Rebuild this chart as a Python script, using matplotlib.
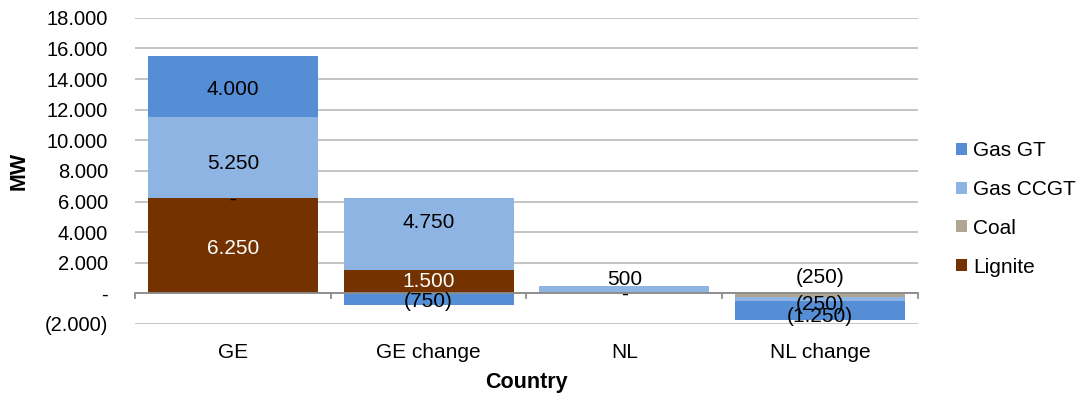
import numpy as np
import matplotlib.pyplot as plt
from matplotlib.ticker import FuncFormatter, FixedLocator

plt.rcParams['font.family'] = ['Liberation Sans', 'DejaVu Sans']

# data (MW)
countries = ['GE', 'GE change', 'NL', 'NL change']
lignite = [6250, 1500, 0, 0]
coal = [0, 0, 0, -250]
gas_ccgt = [5250, 4750, 500, -250]
gas_gt = [4000, -750, 0, -1250]

series = [('Lignite', lignite, '#733200'),
          ('Coal', coal, '#AEA690'),
          ('Gas CCGT', gas_ccgt, '#8EB4E3'),
          ('Gas GT', gas_gt, '#558ED5')]

# which labels are shown (Excel-like), with small nudges in points
label_show = {
    'Lignite': [True, True, False, False],
    'Coal': [True, False, True, True],
    'Gas CCGT': [True, True, True, True],
    'Gas GT': [True, True, False, True],
}
label_nudge = {('Gas CCGT', 1): 8, ('Gas CCGT', 2): 7, ('Coal', 3): 13,
               ('Coal', 2): -1, ('Gas CCGT', 3): -4, ('Gas GT', 3): -4,
               ('Gas GT', 1): -2, ('Gas CCGT', 0): -4, ('Gas GT', 0): -2,
               ('Lignite', 0): -2, ('Coal', 0): -1}


def fmt(v, pos=None):
    if abs(v) < 1e-9:
        return '-'
    s = f'{abs(v):,.0f}'.replace(',', '.')
    return f'({s})' if v < 0 else s


fig = plt.figure(figsize=(10.85, 3.97), dpi=100)
ax = fig.add_axes([0.1245, 0.184, 0.7215, 0.771])

x = np.arange(len(countries))
pos_base = np.zeros(len(countries))
neg_base = np.zeros(len(countries))
handles = {}
for name, vals, color in series:
    vals = np.array(vals, dtype=float)
    bottoms = np.where(vals >= 0, pos_base, neg_base)
    b = ax.bar(x, vals, width=0.87, bottom=bottoms, color=color, zorder=3)
    handles[name] = b
    for i, v in enumerate(vals):
        if not label_show[name][i]:
            continue
        cy = bottoms[i] + v / 2
        tc = 'white' if name == 'Lignite' else 'black'
        ax.annotate(fmt(v), (x[i], cy), xytext=(0, label_nudge.get((name, i), 0)),
                    textcoords='offset points', ha='center', va='center',
                    fontsize=15, color=tc, zorder=5)
    pos_base = pos_base + np.where(vals > 0, vals, 0)
    neg_base = neg_base + np.where(vals < 0, vals, 0)

ax.set_ylim(-2000, 18000)
ax.set_xlim(-0.5, len(countries) - 0.5)
ax.yaxis.set_major_locator(FixedLocator(np.arange(-2000, 18001, 2000)))
ax.yaxis.set_major_formatter(FuncFormatter(fmt))
ax.grid(axis='y', color='#BFBFBF', linewidth=1.3, zorder=0)
ax.axhline(0, color='#8C8C8C', linewidth=1.3, zorder=4)

for s in ax.spines.values():
    s.set_visible(False)
ax.set_xticks(x)
ax.set_xticklabels(countries, fontsize=15)
ax.tick_params(axis='x', which='major', length=0, pad=14)
for xb in np.arange(-0.5, len(countries), 1.0):
    ax.plot([xb, xb], [0, -300], color='#8C8C8C', linewidth=1.3, zorder=4, clip_on=False)
ax.tick_params(axis='y', length=0, labelsize=14.5, pad=19.5)

ax.set_xlabel('Country', fontsize=15.5, fontweight='bold', labelpad=7)
ax.set_ylabel('MW', fontsize=15.5, fontweight='bold', labelpad=11)

order = ['Gas GT', 'Gas CCGT', 'Coal', 'Lignite']
ax.legend([handles[n] for n in order], order, loc='center left',
          bbox_to_anchor=(1.025, 0.376), frameon=False, fontsize=15,
          handlelength=0.5, handleheight=0.5, handletextpad=0.3,
          labelspacing=0.95)

fig.savefig('out.png', dpi=100)
